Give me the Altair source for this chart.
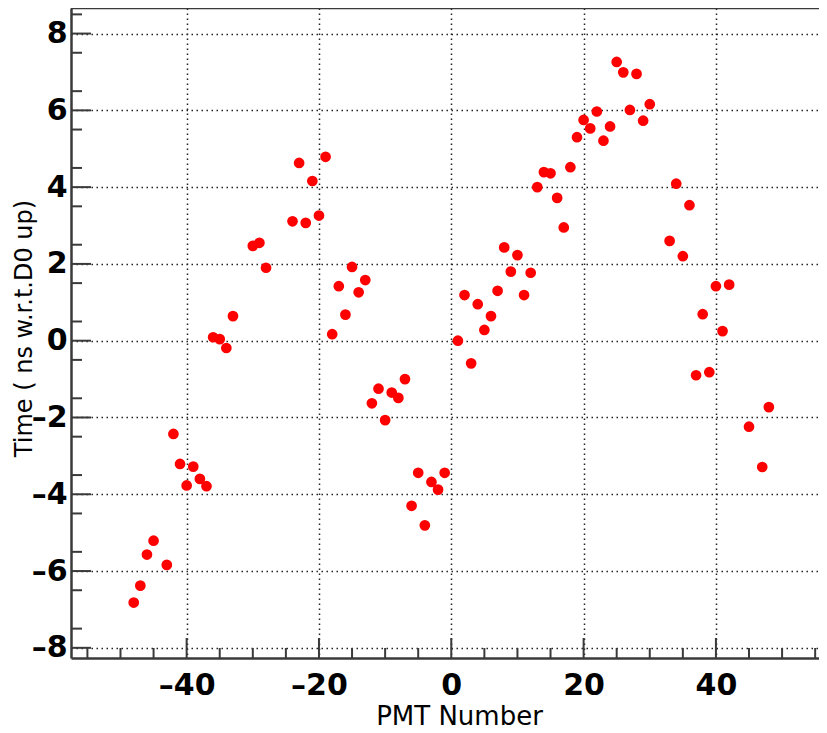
import altair as alt
import pandas as pd

pmt = [-48, -47, -46, -45, -43, -42, -41, -40, -39, -38, -37,
       -36, -35, -34, -33, -30, -29, -28,
       -24, -23, -22, -21, -20, -19,
       -18, -17, -16, -15, -14, -13,
       -12, -11, -10, -9, -8, -7,
       -6, -5, -4, -3, -2, -1,
       1, 2, 3, 4, 5, 6, 7, 8, 9, 10, 11, 12,
       13, 14, 15, 16, 17, 18,
       19, 20, 21, 22, 23, 24, 25, 26, 27, 28, 29, 30,
       33, 34, 35, 36, 37, 38, 39, 40, 41, 42,
       45, 47, 48]
time_ns = [-6.82, -6.38, -5.57, -5.21, -5.84, -2.43, -3.21, -3.77, -3.28, -3.60, -3.79,
           0.09, 0.04, -0.19, 0.64, 2.47, 2.55, 1.90,
           3.11, 4.63, 3.07, 4.16, 3.26, 4.79,
           0.17, 1.42, 0.68, 1.92, 1.26, 1.58,
           -1.63, -1.25, -2.07, -1.35, -1.49, -1.00,
           -4.30, -3.44, -4.81, -3.68, -3.88, -3.44,
           0.00, 1.19, -0.59, 0.95, 0.28, 0.64, 1.30, 2.43, 1.80, 2.23, 1.19, 1.77,
           4.00, 4.39, 4.36, 3.72, 2.95, 4.52,
           5.30, 5.75, 5.53, 5.97, 5.21, 5.58, 7.26, 6.99, 6.01, 6.95, 5.73, 6.16,
           2.60, 4.09, 2.20, 3.53, -0.90, 0.69, -0.82, 1.42, 0.25, 1.46,
           -2.24, -3.29, -1.73]

x_major = [-40, -20, 0, 20, 40]
x_minor = [-55, -50, -45, -35, -30, -25, -15, -10, -5, 5, 10, 15, 25, 30, 35, 45, 50, 55]
y_major = [-8, -6, -4, -2, 0, 2, 4, 6, 8]
y_minor = [-7.5, -6.5, -5.5, -4.5, -3.5, -2.5, -1.5, -0.5, 0.5, 1.5, 2.5, 3.5,
           4.5, 5.5, 6.5, 7.5, 8.5]

W, H = 748, 650
xs = alt.Scale(domain=[-57.48, 55.58], nice=False, zero=False)
ys = alt.Scale(domain=[-8.265, 8.666], nice=False, zero=False)

label_expr = "datum.value < 0 ? '\u2013' + abs(datum.value) : '' + datum.value"
axis_col = "#3a3a3a"

common_axis = dict(
    grid=True, gridDash=[1.5, 3.5], gridColor="#222222", gridWidth=1.5,
    ticks=False, tickSize=0,
    domain=True, domainColor=axis_col, domainWidth=2.5,
    labelFont="DejaVu Sans", labelFontWeight="bold", labelFontSize=30,
    labelColor="black", labelExpr=label_expr, labelOverlap=False, labelFlush=False,
    titleFont="DejaVu Sans", titleFontWeight="normal", titleColor="black",
    titleBaseline="alphabetic", titleAlign="center",
)

x_axis = alt.Axis(values=x_major, title="PMT Number", labelPadding=12,
                  titleFontSize=26, titleX=388, titleY=66, **common_axis)
y_axis = alt.Axis(values=y_major, title="Time ( ns w.r.t.D0 up)", labelPadding=4,
                  titleFontSize=24, titleX=-40, titleY=320, titleAngle=270, **common_axis)

df = pd.DataFrame({"pmt": pmt, "time": time_ns})

points = alt.Chart(df).mark_circle(size=115, color="#ff0000", opacity=1).encode(
    x=alt.X("pmt:Q", scale=xs, axis=x_axis),
    y=alt.Y("time:Q", scale=ys, axis=y_axis),
)

def xticks(vals, length):
    return alt.Chart(pd.DataFrame({"pmt": vals})).mark_rule(color=axis_col, strokeWidth=2).encode(
        x=alt.X("pmt:Q", scale=xs, axis=x_axis),
        y=alt.value(H), y2=alt.value(H - length))

def yticks(vals, length):
    return alt.Chart(pd.DataFrame({"time": vals})).mark_rule(color=axis_col, strokeWidth=2).encode(
        y=alt.Y("time:Q", scale=ys, axis=y_axis),
        x=alt.value(0), x2=alt.value(length))

top_frame = alt.Chart(pd.DataFrame({"a": [0]})).mark_rule(color=axis_col, strokeWidth=2.5).encode(
    x=alt.value(0), x2=alt.value(W), y=alt.value(0))

chart = alt.layer(
    points,
    xticks(x_major, 20), xticks(x_minor, 10),
    yticks(y_major, 20), yticks(y_minor, 11),
    top_frame,
).properties(
    width=W, height=H,
    padding={"left": 63, "top": 0, "right": 0, "bottom": 71},
    autosize=alt.AutoSizeParams(type="none"),
    background="white",
).configure_view(stroke=None)

chart.save("out.html", embed_options={"renderer": "svg", "actions": False})
